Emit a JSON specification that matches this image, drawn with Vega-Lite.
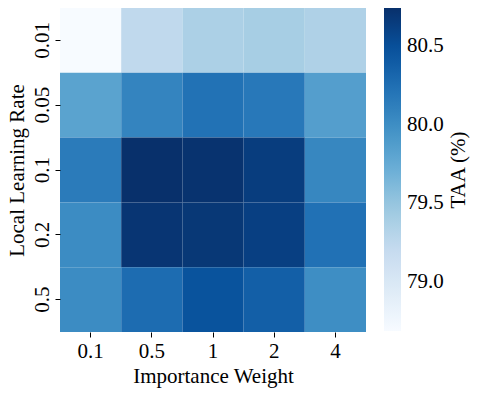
{
  "$schema": "https://vega.github.io/schema/vega-lite/v6.json",
  "width": 306,
  "height": 324,
  "autosize": "none",
  "padding": {"left": 60, "top": 8, "right": 113, "bottom": 61},
  "background": "white",
  "config": {
    "font": "Liberation Serif",
    "view": {"stroke": null},
    "axis": {"grid": false, "domain": false, "tickColor": "black", "tickSize": 5, "labelFontSize": 21, "titleFontSize": 21, "titleFontWeight": "normal", "labelColor": "black", "titleColor": "black", "labelFont": "Liberation Serif", "titleFont": "Liberation Serif"}
  },
  "data": {"values": [
    {"lr": "0.01", "w": "0.1", "taa": 78.69},
    {"lr": "0.01", "w": "0.5", "taa": 79.24},
    {"lr": "0.01", "w": "1", "taa": 79.37},
    {"lr": "0.01", "w": "2", "taa": 79.40},
    {"lr": "0.01", "w": "4", "taa": 79.35},
    {"lr": "0.05", "w": "0.1", "taa": 79.82},
    {"lr": "0.05", "w": "0.5", "taa": 80.08},
    {"lr": "0.05", "w": "1", "taa": 80.22},
    {"lr": "0.05", "w": "2", "taa": 80.17},
    {"lr": "0.05", "w": "4", "taa": 79.86},
    {"lr": "0.1", "w": "0.1", "taa": 80.15},
    {"lr": "0.1", "w": "0.5", "taa": 80.74},
    {"lr": "0.1", "w": "1", "taa": 80.72},
    {"lr": "0.1", "w": "2", "taa": 80.64},
    {"lr": "0.1", "w": "4", "taa": 80.06},
    {"lr": "0.2", "w": "0.1", "taa": 80.02},
    {"lr": "0.2", "w": "0.5", "taa": 80.70},
    {"lr": "0.2", "w": "1", "taa": 80.68},
    {"lr": "0.2", "w": "2", "taa": 80.62},
    {"lr": "0.2", "w": "4", "taa": 80.23},
    {"lr": "0.5", "w": "0.1", "taa": 80.02},
    {"lr": "0.5", "w": "0.5", "taa": 80.27},
    {"lr": "0.5", "w": "1", "taa": 80.47},
    {"lr": "0.5", "w": "2", "taa": 80.37},
    {"lr": "0.5", "w": "4", "taa": 80.00}
  ]},
  "mark": {"type": "rect", "strokeWidth": 0},
  "encoding": {
    "x": {"field": "w", "type": "ordinal", "sort": ["0.1", "0.5", "1", "2", "4"], "title": "Importance Weight",
      "scale": {"paddingInner": 0, "paddingOuter": 0},
      "axis": {"labelAngle": 0, "labelPadding": 3, "titlePadding": 4}},
    "y": {"field": "lr", "type": "ordinal", "sort": ["0.01", "0.05", "0.1", "0.2", "0.5"], "title": "Local Learning Rate",
      "scale": {"paddingInner": 0, "paddingOuter": 0},
      "axis": {"labelAngle": 270, "labelPadding": 3, "titlePadding": 4}},
    "color": {"field": "taa", "type": "quantitative", "title": "TAA (%)",
      "scale": {"domain": [78.69, 78.94625, 79.2025, 79.45875, 79.715, 79.97125, 80.2275, 80.48375, 80.74],
        "range": ["#f7fbff", "#deebf7", "#c6dbef", "#9ecae1", "#6baed6", "#4292c6", "#2171b5", "#08519c", "#08306b"],
        "interpolate": "rgb"},
      "legend": {"orient": "right", "offset": 18, "direction": "vertical", "gradientLength": 323, "gradientThickness": 17,
        "gradientStrokeWidth": 0, "values": [79.0, 79.5, 80.0, 80.5], "format": ".1f",
        "labelFontSize": 21, "labelFont": "Liberation Serif", "labelColor": "black", "labelOffset": 6,
        "titleOrient": "right", "titlePadding": 6, "titleFontSize": 21, "titleFontWeight": "normal", "titleFont": "Liberation Serif", "titleColor": "black",
        "encode": {"title": {"update": {"angle": {"value": 270}, "dy": {"value": 19}}}}}}
  }
}
